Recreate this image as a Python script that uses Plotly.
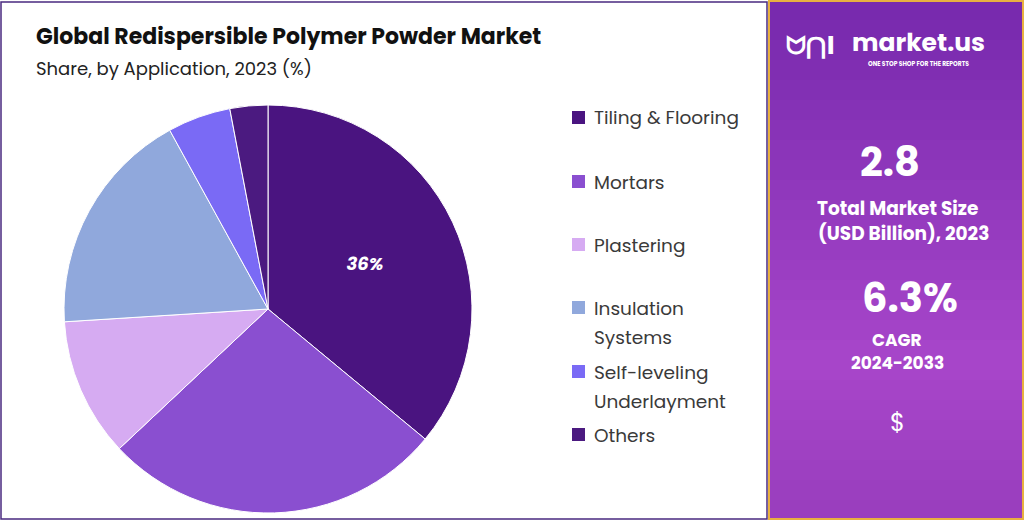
import plotly.graph_objects as go

labels = ["Tiling & Flooring", "Mortars", "Plastering", "Insulation Systems", "Self-leveling Underlayment", "Others"]
legend_lines = [["Tiling & Flooring"], ["Mortars"], ["Plastering"], ["Insulation", "Systems"],
                ["Self-leveling", "Underlayment"], ["Others"]]
values = [36, 27, 11, 18, 5, 3]
colors = ["#4a1480", "#8a4fd0", "#d6abf2", "#90a8dc", "#7a6af5", "#4b1a80"]
slice_text = ["<b><i>36%</i></b>", "", "", "", "", ""]

W, H = 1024, 520
fig = go.Figure()
fig.add_trace(go.Pie(
    labels=labels, values=values, sort=False, direction="clockwise", rotation=0,
    marker=dict(colors=colors, line=dict(color="white", width=1)),
    text=slice_text, textinfo="text", textposition="inside", insidetextorientation="horizontal",
    textfont=dict(family="Poppins, Open Sans, sans-serif", size=18, color="white"),
    domain=dict(x=[64/W, 472/W], y=[1-515/H, 1-103/H]), showlegend=False, hoverinfo="label+percent"))

shapes = [
    dict(type="rect", xref="paper", yref="paper", x0=1/W, x1=767/W, y0=1/H, y1=1-2/H,
         line=dict(color="#4a2a80", width=1.5), fillcolor="white", layer="below"),
]
n = 26
def mix(a, b, t):
    return "#%02x%02x%02x" % tuple(int(a[i] + (b[i] - a[i]) * t) for i in range(3))
top, mid, bot = (0x78, 0x2a, 0xae), (0xa8, 0x46, 0xca), (0x9a, 0x3e, 0xbe)
for i in range(n):
    t = i / (n - 1)
    c = mix(top, mid, t / 0.7) if t < 0.7 else mix(mid, bot, (t - 0.7) / 0.3)
    shapes.append(dict(type="rect", xref="paper", yref="paper", x0=769/W, x1=1023/W,
                       y0=1-(i+1)*20/H, y1=1-i*20/H, line=dict(width=0), fillcolor=c, layer="below"))
shapes.append(dict(type="rect", xref="paper", yref="paper", x0=769/W, x1=1023/W, y0=1/H, y1=1-1/H,
                   line=dict(color="#e8b040", width=2), fillcolor="rgba(0,0,0,0)", layer="below"))
annotations = [
    dict(text="<b>Global Redispersible Polymer Powder Market</b>", x=34/W, y=1-37/H, xanchor="left", yanchor="middle",
         font=dict(family="Poppins, Open Sans, sans-serif", size=22, color="#111")),
    dict(text="Share, by Application, 2023 (%)", x=34/W, y=1-69/H, xanchor="left", yanchor="middle",
         font=dict(family="Poppins, Open Sans, sans-serif", size=18, color="#222")),
]
legend_y = [118, 182, 245, 308, 372, 435]
for lines, c, y in zip(legend_lines, colors, legend_y):
    shapes.append(dict(type="rect", xref="paper", yref="paper", x0=572/W, x1=585/W,
                       y0=1-(y+6)/H, y1=1-(y-7)/H, fillcolor=c, line=dict(width=0)))
    for k, ln in enumerate(lines):
        annotations.append(dict(text=ln, x=592/W, y=1-(y+29*k)/H, xanchor="left", yanchor="middle",
                                font=dict(family="Poppins, Open Sans, sans-serif", size=18.5, color="#3a3a3a")))
rp = [
    ("<b>market.us</b>", 918, 42, 25),
    ("<b>ONE STOP SHOP FOR THE REPORTS</b>", 918, 64, 6),
    ("<b>2.8</b>", 890, 162, 40),
    ("<b>Total Market Size</b>", 897, 208, 18.5),
    ("<b>(USD Billion), 2023</b>", 903, 234, 18.5),
    ("<b>6.3%</b>", 910, 298, 40),
    ("<b>CAGR</b>", 897, 340, 17),
    ("<b>2024-2033</b>", 897, 363, 17),
    ("$", 897, 422, 24),
]
for t, x, y, s in rp:
    annotations.append(dict(text=t, x=x/W, y=1-y/H, xanchor="center", yanchor="middle",
                            font=dict(family="Poppins, Open Sans, sans-serif", size=s, color="white")))
annotations.append(dict(text="<b>ᗢ⋂I</b>", x=810/W, y=1-46/H, xanchor="center", yanchor="middle",
                        font=dict(family="DejaVu Sans", size=24, color="white")))
for a in annotations:
    a["showarrow"] = False
    a["xref"] = "paper"; a["yref"] = "paper"

fig.update_layout(width=W, height=H, margin=dict(l=0, r=0, t=0, b=0), paper_bgcolor="white",
                  plot_bgcolor="white", shapes=shapes, annotations=annotations)
fig.write_html("out.html", config={"displayModeBar": False},
               post_script="document.body.style.margin='0';document.body.style.overflow='hidden';")
